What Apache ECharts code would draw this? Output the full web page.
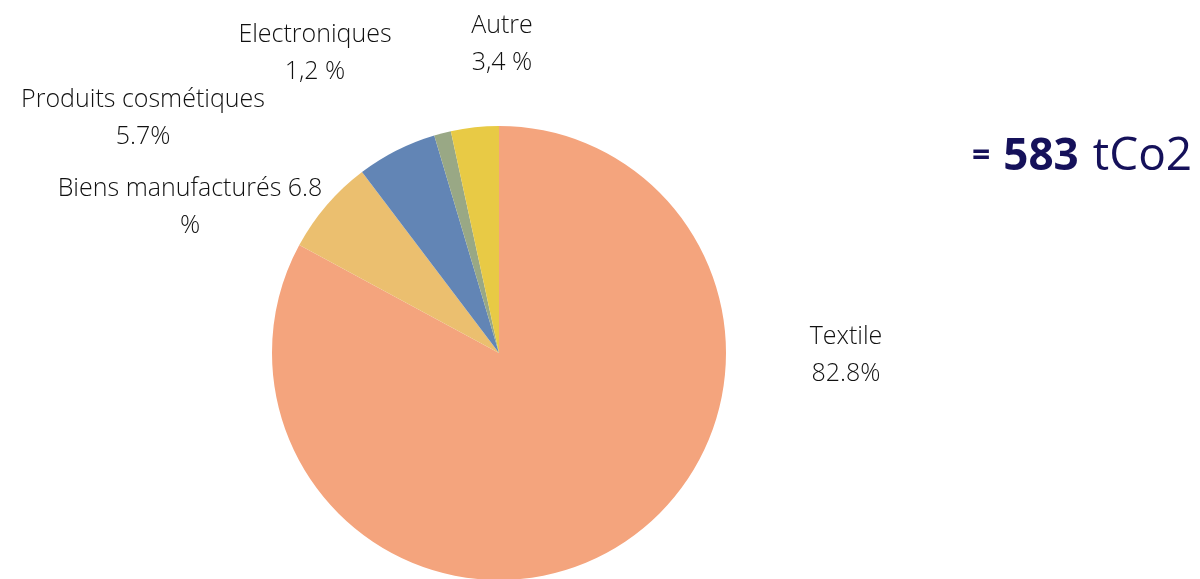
<!DOCTYPE html>
<html>
<head>
<meta charset="utf-8">
<title>Répartition tCO2</title>
<script src="https://cdn.jsdelivr.net/npm/echarts@6/dist/echarts.min.js"></script>
<style>
  html, body { margin: 0; padding: 0; background: #fff; }
  #box { width: 1200px; height: 579px; }
</style>
</head>
<body>
<div id="box"></div>
<script>
// données (sens horaire depuis midi)
var categories = ['Textile', 'Biens manufacturés', 'Produits cosmétiques', 'Electroniques', 'Autre'];
var values = [82.8, 6.8, 5.7, 1.2, 3.4];
var pctLabels = ['82.8%', '6.8\n%', '5.7%', '1,2 %', '3,4 %'];
var colors = ['#F4A47D', '#EBBF6F', '#6285B5', '#99A885', '#E8CA45'];
var total = '583';

// position des étiquettes (centre du bloc de texte)
var labelPos = [[846, 355], [190, 207], [143, 118], [315, 53], [502, 44]];

var chart = echarts.init(document.getElementById('box'));
chart.setOption({
  animation: false,
  textStyle: { fontFamily: 'Open Sans' },
  series: [{
    type: 'pie',
    center: [499, 353],
    radius: 227,
    startAngle: 90,
    clockwise: true,
    data: categories.map(function (c, i) {
      return { name: c, value: values[i], itemStyle: { color: colors[i] } };
    }),
    label: {
      show: true,
      color: '#111',
      fontSize: 25,
      fontWeight: 300,
      lineHeight: 37,
      fontFamily: 'Open Sans',
      overflow: 'none',
      width: 400,
      align: 'center',
      formatter: function (p) {
        var sep = p.dataIndex == 1 ? ' ' : '\n';
        return p.name + sep + pctLabels[p.dataIndex];
      }
    },
    labelLine: { show: false },
    labelLayout: function (p) {
      var pos = labelPos[p.dataIndex];
      return { x: pos[0], y: pos[1], align: 'center', verticalAlign: 'middle' };
    },
    emphasis: { disabled: true }
  }],
  graphic: [{
    type: 'text',
    left: 972,
    top: 134,
    style: {
      text: '{eq|=}{num|' + total + '}{unit|tCo2}',
      rich: {
        eq: { fontSize: 32, fontWeight: 'bold', fill: '#15115A', fontFamily: 'Open Sans' },
        num: { fontSize: 44, fontWeight: 'bold', fill: '#15115A', fontFamily: 'Open Sans', padding: [0, 14, 0, 13] },
        unit: { fontSize: 46, fill: '#15115A', fontFamily: 'Open Sans' }
      }
    }
  }]
});
</script>
</body>
</html>
